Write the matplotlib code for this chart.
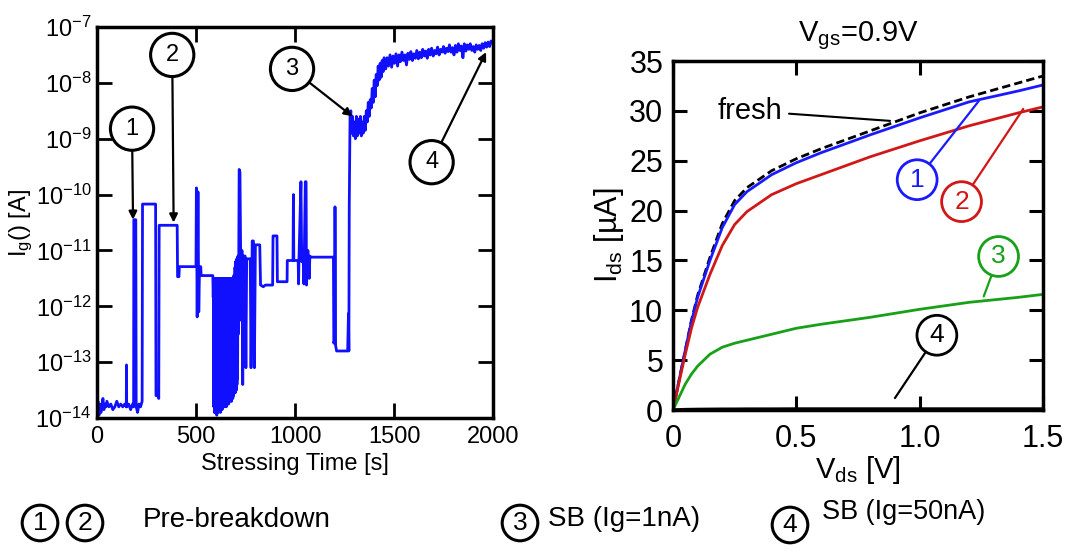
import matplotlib

matplotlib.use("Agg")

import matplotlib.pyplot as plt
import numpy as np

plt.rcParams["font.family"] = ["Liberation Sans", "DejaVu Sans"]
plt.rcParams["mathtext.fontset"] = "custom"
plt.rcParams["mathtext.rm"] = "Liberation Sans"
plt.rcParams["mathtext.it"] = "Liberation Sans"

# left panel: gate current trace during stress, log10(Ig [A]) vs time [s]
ig_time = [
    0, 5, 10, 15, 20, 25, 30, 35, 40, 45, 50, 60, 70, 80, 90, 100, 110, 120, 130, 140,
    148, 149, 150, 160, 170, 180, 185,
    186, 196, 198, 205, 212, 220, 228,
    230, 296, 298, 310, 312, 314, 405, 407, 414, 416, 500, 502, 506, 510, 514, 518, 524,
    526, 585, 587, 589,
    590, 592, 593, 595, 596, 598, 599, 601, 602, 604, 605, 607, 608, 610, 611, 613, 614,
    616, 617, 619, 620, 622, 623, 625, 626, 628, 629, 631, 632, 634, 635, 637, 638, 640,
    641, 643, 644, 646, 647, 649, 650, 652, 653, 655, 656, 658, 659, 661, 662, 664, 665,
    667, 668, 670, 671, 673, 674, 676, 677, 679, 680, 682, 683, 685, 686, 688, 689, 691,
    692, 694, 695, 697, 698, 700, 701, 703, 704, 706, 707, 709, 710, 712, 713, 716,
    718, 722, 726, 728, 732, 736, 740, 748, 752, 756, 774, 778, 784, 790, 795, 800, 822,
    826, 840, 850, 887, 889, 909, 911, 960, 961, 990, 992, 994, 1016, 1018, 1020, 1030,
    1034, 1040, 1045, 1052, 1056, 1058, 1065, 1072, 1075, 1081, 1194, 1196, 1200, 1202,
    1205, 1210, 1266, 1270, 1272, 1274, 1278,
    1282, 1285, 1290, 1295, 1300, 1305, 1310, 1315, 1320, 1325, 1330, 1335, 1340, 1345,
    1350, 1355, 1360, 1365, 1370, 1375, 1380, 1385, 1390, 1395, 1400, 1405, 1410, 1415,
    1420, 1425, 1430, 1435, 1440, 1445, 1450, 1458, 1465, 1472, 1480, 1488, 1495, 1502,
    1510, 1518, 1525, 1532, 1540, 1548, 1555, 1563, 1570, 1578, 1585, 1593, 1600, 1608,
    1615, 1623, 1630, 1638, 1645, 1653, 1660, 1668, 1675, 1683, 1690, 1698, 1705, 1713,
    1720, 1728, 1735, 1743, 1750, 1758, 1765, 1773, 1780, 1788, 1795, 1803, 1810, 1818,
    1825, 1833, 1840, 1848, 1855, 1863, 1870, 1878, 1885, 1893, 1900, 1908, 1915, 1923,
    1930, 1938, 1945, 1953, 1960, 1968, 1975, 1983, 1990, 2000,
]
ig_log = [
    -13.85, -13.7, -13.95, -13.75, -13.9, -13.8, -13.65, -13.85, -13.75, -13.8, -13.7,
    -13.8, -13.75, -13.85, -13.8, -13.7, -13.8, -13.75, -13.8, -13.75,
    -13.8, -13.05, -13.8, -13.75, -13.85, -13.75, -13.8,
    -10.45, -10.45, -13.8, -13.9, -13.75, -13.8, -13.7,
    -10.17, -10.17, -13.6, -13.6, -13.65, -10.55, -10.55, -11.47, -11.47, -11.29, -11.29,
    -9.88, -12.19, -9.95, -12.1, -11.29, -11.29,
    -11.45, -11.45, -11.84, -11.5,
    -13.8, -11.5, -13.9, -11.5, -13.7, -11.5, -13.9, -11.5, -13.8, -11.5, -13.95, -11.5,
    -13.8, -11.5, -13.9, -11.5, -13.75, -11.5, -13.85, -11.5, -13.8, -11.5, -13.9, -11.5,
    -13.7, -11.5, -13.8, -11.5, -13.85, -11.5, -13.7, -11.5, -13.8, -11.5, -13.75, -11.5,
    -13.8, -11.5, -13.7, -11.5, -13.75, -11.5, -13.8, -11.5, -13.7, -11.5, -13.75, -11.5,
    -13.65, -11.5, -13.75, -11.5, -13.7, -11.5, -13.6, -11.5, -13.7, -11.5, -13.65, -11.5,
    -13.7, -11.5, -13.6, -11.5, -13.65, -11.5, -13.6, -11.45, -13.55, -11.45, -13.5,
    -11.3, -13.55, -11.2, -13.5, -11.2, -13.5, -11.15, -13.4, -11.15, -13.3, -11.1,
    -12.5, -11.1,
    -9.55, -9.6, -11.2, -12.25, -11.0, -13.4, -11.1, -11.1, -13.1, -11.15, -11.15, -13.1,
    -10.83, -10.83, -13.1, -10.9, -10.9,
    -11.62, -11.65, -11.62, -11.62, -10.74, -10.74, -11.56, -11.56, -11.18, -11.18, -10.0,
    -11.18, -11.18, -11.6, -11.15, -9.77, -11.2, -11.0, -11.6, -9.77, -9.77, -11.62,
    -11.0, -11.5, -11.1, -11.12, -11.12, -12.66, -12.6, -10.22, -12.7, -12.8, -12.8,
    -12.13, -12.8, -10.2, -8.6,
    -8.5, -8.9, -8.6, -8.95, -8.7, -9.0, -8.6, -8.95, -8.65, -8.9, -8.6, -8.95, -8.7,
    -8.9, -8.6, -8.85, -8.5, -8.7, -8.35, -8.6, -8.3, -8.45, -8.1, -8.35, -7.95, -8.25,
    -7.85, -8.05, -7.7, -7.95, -7.65, -7.9, -7.6, -7.8, -7.55, -7.75, -7.55, -7.7, -7.5,
    -7.72, -7.52, -7.65, -7.48, -7.7, -7.5, -7.62, -7.45, -7.6, -7.5, -7.68, -7.47,
    -7.58, -7.44, -7.6, -7.48, -7.56, -7.42, -7.57, -7.45, -7.55, -7.4, -7.52, -7.43,
    -7.56, -7.4, -7.5, -7.38, -7.52, -7.42, -7.48, -7.36, -7.5, -7.4, -7.45, -7.35,
    -7.47, -7.38, -7.44, -7.32, -7.45, -7.37, -7.5, -7.33, -7.45, -7.3, -7.42, -7.34,
    -7.55, -7.3, -7.43, -7.32, -7.4, -7.3, -7.42, -7.35, -7.45, -7.32, -7.4, -7.33,
    -7.42, -7.3, -7.38, -7.28, -7.36, -7.27, -7.35, -7.25, -7.3,
]

# right panel: Ids [uA] vs Vds [V]
vds = [0, 0.025, 0.05, 0.075, 0.1, 0.15, 0.2, 0.25, 0.3, 0.4, 0.5, 0.6, 0.8, 1.0, 1.2, 1.4, 1.5]
ids_fresh = [0, 3.0, 6.0, 9.0, 11.5, 15.3, 18.7, 21.0, 22.3, 24.0, 25.2, 26.2, 28.0, 29.8, 31.4, 32.8, 33.5]
ids_1 = [0, 3.0, 6.0, 8.9, 11.3, 15.0, 18.3, 20.6, 21.9, 23.6, 24.8, 25.8, 27.6, 29.3, 30.9, 32.0, 32.6]
ids_2 = [0, 2.8, 5.6, 8.2, 10.3, 13.6, 16.5, 18.6, 19.9, 21.6, 22.7, 23.6, 25.4, 27.0, 28.5, 29.8, 30.4]
ids_3 = [0, 1.3, 2.6, 3.6, 4.4, 5.6, 6.3, 6.7, 7.0, 7.6, 8.2, 8.6, 9.3, 10.1, 10.8, 11.3, 11.6]
ids_4 = [0, 0.02, 0.04, 0.05, 0.06, 0.07, 0.08, 0.08, 0.09, 0.09, 0.1, 0.1, 0.1, 0.1, 0.1, 0.1, 0.1]

fig = plt.figure(figsize=(10.8, 5.59), dpi=100)
ax1 = fig.add_axes([0.0898, 0.2522, 0.3667, 0.6995])
ax2 = fig.add_axes([0.6231, 0.2665, 0.3426, 0.6243])

# ---- left: Ig vs stress time
ax1.plot(ig_time, 10 ** np.array(ig_log), color="#1010ff", linewidth=2.0)
ax1.set_yscale("log")
ax1.set_xlim(0, 2000)
ax1.set_ylim(1e-14, 1e-7)
ax1.set_xticks([0, 500, 1000, 1500, 2000])
ax1.set_yticks([10.0 ** k for k in range(-14, -6)])
ax1.minorticks_off()
ax1.tick_params(direction="in", length=11, width=2, top=True, right=True, pad=6)
ax1.tick_params(axis="x", labelsize=17)
ax1.tick_params(axis="y", labelsize=17, pad=4)
for sp in ax1.spines.values():
    sp.set_linewidth(2.5)
ax1.set_xlabel("Stressing Time [s]", fontsize=17, labelpad=3)
ax1.set_ylabel(r"I$_\mathregular{g}$() [A]", fontsize=17, labelpad=0)

circ = dict(boxstyle="circle,pad=0.45", fc="white", ec="black", lw=2.2)
arr = dict(arrowstyle="-|>", color="black", lw=1.6, mutation_scale=12, shrinkA=0, shrinkB=0)
ax1.annotate("1", xy=(182, 10**-10.45), xytext=(177, 10**-8.82), fontsize=17,
             ha="center", va="center", bbox=circ, arrowprops=arr)
ax1.annotate("2", xy=(387, 10**-10.5), xytext=(380, 10**-7.5), fontsize=17,
             ha="center", va="center", bbox=circ, arrowprops=arr)
ax1.annotate("3", xy=(1290, 10**-8.6), xytext=(985, 10**-7.75), fontsize=17,
             ha="center", va="center", bbox=circ, arrowprops=arr)
ax1.annotate("4", xy=(1965, 10**-7.45), xytext=(1690, 10**-9.42), fontsize=17,
             ha="center", va="center", bbox=circ, arrowprops=arr)

# ---- right: Ids-Vds
ax2.plot(vds, ids_fresh, color="black", linestyle=(0, (3, 1.5)), linewidth=2)
ax2.plot(vds, ids_1, color="#1a1aff", linewidth=2)
ax2.plot(vds, ids_2, color="#d01818", linewidth=2)
ax2.plot(vds, ids_3, color="#18a018", linewidth=2)
ax2.plot(vds, ids_4, color="black", linewidth=2.5)
ax2.set_xlim(0, 1.5)
ax2.set_ylim(0, 35)
ax2.set_xticks([0, 0.5, 1.0, 1.5])
ax2.set_xticklabels(["0", "0.5", "1.0", "1.5"])
ax2.set_yticks(range(0, 36, 5))
ax2.tick_params(direction="in", length=10, width=2.2, top=True, right=True, labelsize=22)
ax2.tick_params(axis="x", pad=10)
ax2.tick_params(axis="y", pad=7)
for sp in ax2.spines.values():
    sp.set_linewidth(2.5)
ax2.set_xlabel(r"V$_\mathregular{ds}$ [V]", fontsize=21, labelpad=0)
ax2.set_ylabel(r"I$_\mathregular{ds}$ [µA]", fontsize=22, labelpad=2)
ax2.set_title(r"V$_\mathregular{gs}$=0.9V", fontsize=21, pad=14)

ax2.annotate("fresh", xy=(0.88, 29.0), xytext=(0.18, 30.0), fontsize=21,
             ha="left", va="center",
             arrowprops=dict(arrowstyle="-", color="black", lw=1.5, shrinkA=3, shrinkB=0))
for lbl, tip, pos, col in [
    ("1", (1.24, 31.0), (0.99, 23.1), "#1a1aff"),
    ("2", (1.42, 30.2), (1.17, 20.9), "#d01818"),
    ("3", (1.26, 11.4), (1.32, 15.4), "#18a018"),
    ("4", (0.9, 1.2), (1.07, 7.5), "black"),
]:
    ax2.annotate(lbl, xy=tip, xytext=pos, fontsize=19, color=col, ha="center", va="center",
                 bbox=dict(boxstyle="circle,pad=0.3", fc="white", ec=col, lw=2),
                 arrowprops=dict(arrowstyle="-", color=col, lw=1.6, shrinkA=0, shrinkB=0))

# ---- bottom key
kc = dict(boxstyle="circle,pad=0.22", fc="white", ec="black", lw=2.2)
for lbl, x, y in [("1", 40, 523), ("2", 85, 523), ("3", 520, 523), ("4", 790, 525)]:
    fig.text(x / 1080, 1 - y / 559, lbl, fontsize=19, ha="center", va="center", bbox=kc)
fig.text(143 / 1080, 1 - 520 / 559, "Pre-breakdown", fontsize=20, ha="left", va="center")
fig.text(548 / 1080, 1 - 519 / 559, "SB (Ig=1nA)", fontsize=20, ha="left", va="center")
fig.text(822 / 1080, 1 - 512 / 559, "SB (Ig=50nA)", fontsize=19.5, ha="left", va="center")

fig.savefig("out.png", dpi=100)
